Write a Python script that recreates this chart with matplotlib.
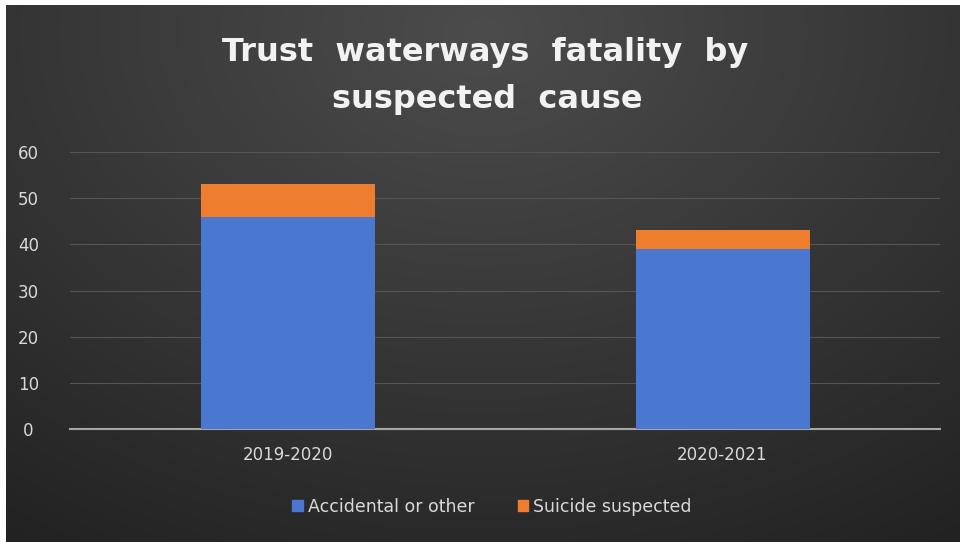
import numpy as np
import matplotlib
matplotlib.use('Agg')
import matplotlib.pyplot as plt
from matplotlib.patches import Patch

# data
years = ['2019-2020', '2020-2021']
accidental = [46, 39]
suicide = [7, 4]
yticks = [0, 10, 20, 30, 40, 50, 60]

W, H = 960, 542
fig = plt.figure(figsize=(W / 100, H / 100), dpi=100)
fig.patch.set_facecolor('white')

# dark radial gradient backdrop (Excel style)
bg = fig.add_axes([6 / W, 0, (W - 6) / W, (H - 5) / H])
yy, xx = np.mgrid[-1:1:300j, -1:1:500j]
r = np.sqrt(xx ** 2 + (yy + 0.9) ** 2 * 0.6)
r = np.clip(r / r.max(), 0, 1)
c0 = np.array([0x4c, 0x4c, 0x4c]) / 255
c1 = np.array([0x22, 0x22, 0x22]) / 255
img = c0[None, None, :] * (1 - r[..., None]) + c1[None, None, :] * r[..., None]
bg.imshow(img, aspect='auto', extent=[0, 1, 0, 1], origin='upper')
bg.set_axis_off()

ax = fig.add_axes([70 / W, (H - 429) / H, 870 / W, 277 / H])
ax.patch.set_alpha(0)

x = np.arange(len(years))
ax.bar(x, accidental, width=0.4, color='#4a77cf', zorder=3, label='Accidental or other')
ax.bar(x, suicide, width=0.4, bottom=accidental, color='#ee7d2e', zorder=3, label='Suicide suspected')

ax.set_xlim(-0.5, 1.5)
ax.set_ylim(0, 60)
ax.set_yticks(yticks)
ax.set_xticks(x)
ax.set_xticklabels(years)
ax.grid(axis='y', color='#555555', linewidth=0.8, zorder=0)
for s in ['top', 'right', 'left']:
    ax.spines[s].set_visible(False)
ax.spines['bottom'].set_color('#a6a6a6')
ax.spines['bottom'].set_linewidth(1.5)
ax.tick_params(axis='both', length=0, colors='#d9d9d9', labelsize=12)
ax.tick_params(axis='y', pad=30)
ax.tick_params(axis='x', pad=12)
for lbl in ax.get_yticklabels():
    lbl.set_horizontalalignment('center')

fig.text(485 / W, 1 - 52 / H, 'Trust  waterways  fatality  by', color='#f2f2f2',
         fontsize=23, fontweight='bold', ha='center', va='center', family='DejaVu Sans')
fig.text(487 / W, 1 - 100 / H, 'suspected  cause', color='#f2f2f2',
         fontsize=23, fontweight='bold', ha='center', va='center', family='DejaVu Sans')

handles = [Patch(color='#4a77cf', label='Accidental or other'),
           Patch(color='#ee7d2e', label='Suicide suspected')]
fig.legend(handles=handles, loc='center', bbox_to_anchor=(492 / W, 1 - 507 / H), ncol=2,
           frameon=False, labelcolor='#d9d9d9', fontsize=12.5, handlelength=0.6,
           handleheight=0.6, handletextpad=0.3, columnspacing=2.5)

fig.savefig('out.png', dpi=100, facecolor=fig.get_facecolor())
